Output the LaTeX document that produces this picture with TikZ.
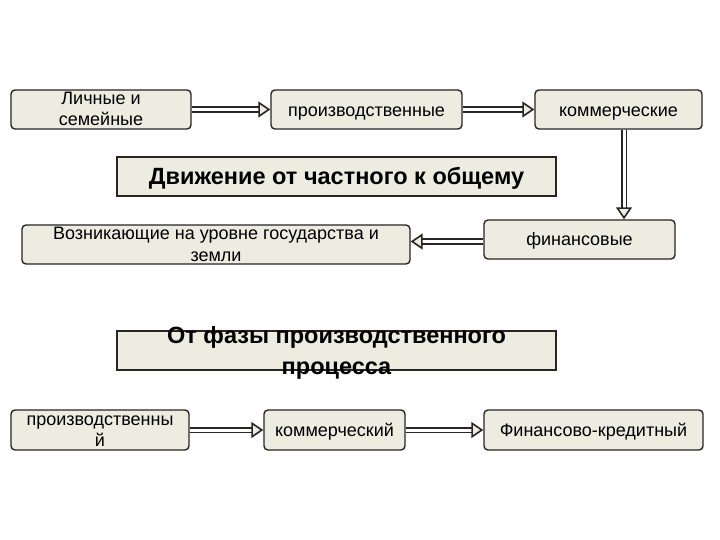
\documentclass[tikz,border=0pt]{standalone}
\usepackage{fontspec}
\setmainfont{Liberation Sans}
\usetikzlibrary{arrows.meta,calc}
\definecolor{boxfill}{HTML}{EEEBE1}
\definecolor{edge}{HTML}{262626}
\tikzset{
  box/.style={draw=edge, line width=1.4pt, rounded corners=4pt, fill=boxfill,
    minimum height=39pt, inner sep=0pt, align=center,
    font=\fontsize{18}{20}\selectfont},
  titlebox/.style={draw=edge, line width=1.4pt, fill=boxfill, minimum height=39pt,
    inner sep=0pt, align=center, font=\fontsize{23.5}{25.5}\selectfont\bfseries},
  hd/.style 2 args={text height=#1pt, text depth=#2pt},
  lead/.style={font=\fontsize{18}{#1}\selectfont},
  tlead/.style={font=\fontsize{23.5}{#1}\selectfont\bfseries},
  arr/.style={draw=edge, line width=1.6pt, double=white, double distance=3pt,
    -{Triangle[open, length=12pt, width=16pt, fill=boxfill]}}
}
\begin{document}
\begin{tikzpicture}[x=1pt,y=-1pt]
\useasboundingbox[fill=white] (0,0) rectangle (720,540);
\node[box, lead=21.5, hd={32.4}{0}, minimum width=180pt] (lic) at (101,109.5) {Личные и\\семейные};
\node[box, hd={15}{0}, minimum width=191pt] (pro) at (366.5,109.5) {производственные};
\node[box, hd={15}{0}, minimum width=167pt] (kom) at (618.5,109.5) {коммерческие};
\node[titlebox, hd={17}{0}, minimum width=439pt] (t1) at (336.5,176.5) {Движение от частного к общему};
\node[box, hd={14}{3}, minimum width=191pt] (fin) at (579.5,239.5) {финансовые};
\node[box, lead=22, hd={34.4}{0}, minimum width=388pt] (voz) at (216,244.5) {Возникающие на уровне государства и\\земли};
\node[titlebox, tlead=31, hd={0}{0}, minimum width=439pt] (t2) at (336.5,350.5)
  {\raisebox{-23.8pt}[0pt][0pt]{\parbox[b]{439pt}{\centering От фазы производственного\\процесса}}};
\node[box, lead=21, hd={33.4}{0}, minimum width=178pt, minimum height=40pt] (pr2) at (100,430) {производственны\\й};
\node[box, hd={15}{2}, minimum width=141pt, minimum height=40pt] (km2) at (334.5,430) {коммерческий};
\node[box, hd={15}{2}, minimum width=219pt, minimum height=40pt] (fk) at (593.5,430) {Финансово-кредитный};
\draw[arr] (lic.east) -- (pro.west);
\draw[arr] (pro.east) -- (kom.west);
\draw[arr] ([xshift=5.5pt]kom.south) -- ([xshift=5.5pt]kom.south |- fin.north);
\draw[arr] ([yshift=-2pt]fin.west) -- ([yshift=-2pt]fin.west -| voz.east);
\draw[arr] (pr2.east) -- (km2.west);
\draw[arr] (km2.east) -- (fk.west);
\end{tikzpicture}
\end{document}
